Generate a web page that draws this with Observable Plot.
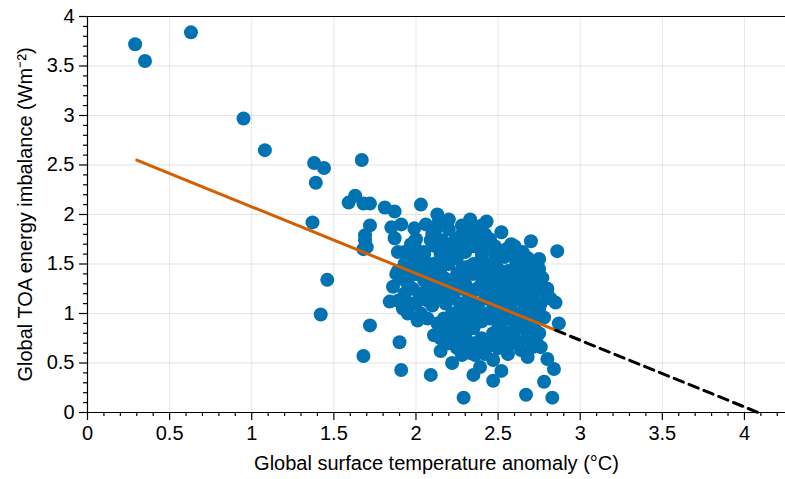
<!DOCTYPE html>
<html><head><meta charset="utf-8">
<script src="https://cdn.jsdelivr.net/npm/d3@7"></script>
<script src="https://cdn.jsdelivr.net/npm/@observablehq/plot@0.6"></script>
<style>
body{margin:0;background:#fff}
#chart svg{font-family:"Liberation Sans",Arial,Helvetica,sans-serif}
</style>
</head><body><div id="chart"></div>
<script>
// Global surface temperature anomaly (°C) for each point
const tempX = [
0.29,0.35,0.63,0.95,1.08,1.38,1.44,1.39,1.67,1.37,
1.46,1.42,1.68,1.72,1.90,1.91,2.09,2.15,2.22,2.29,
2.35,2.47,2.52,2.67,2.78,2.83,2.84,2.80,2.85,2.87,
2.86,2.70,2.75,2.77,2.72,2.78,2.76,2.71,2.64,2.56,
2.42,2.31,2.27,2.11,2.13,2.01,1.95,1.89,1.84,1.86,
1.88,1.89,1.89,1.68,1.69,1.70,1.69,1.72,1.63,1.59,
1.68,1.72,1.81,1.87,2.03,2.13,2.14,1.85,1.91,1.87,
1.99,2.06,2.09,1.97,1.95,2.03,2.15,2.21,1.95,2.05,
2.13,2.28,2.43,2.40,2.58,2.61,2.54,2.48,2.39,2.30,
2.16,2.66,2.59,2.43,2.31,2.56,2.60,2.68,2.68,2.74,
2.07,2.39,2.47,2.68,2.76,
2.20,2.35,
2.00,2.24,2.35,2.45,
2.05,2.30,2.40,2.65,
1.98,2.10,2.20,2.35,2.45,2.70,
2.00,2.15,2.25,2.35,2.50,2.60,
1.95,2.22,2.30,2.40,2.50,2.67,
1.93,2.02,2.12,2.22,2.32,2.42,2.52,2.80,
1.98,2.18,2.28,2.38,2.48,2.58,2.66,
2.03,2.22,2.32,2.42,2.52,2.62,2.70,
2.22,2.32,2.50,2.60,2.70,
2.20,2.30,2.47,2.58,
2.20,2.35,2.45,2.55,2.62,
2.10,2.28,2.42,
2.12,2.20,2.35,2.48,2.60,
2.02,2.15,2.25,2.40,2.50,2.62,2.68,
1.92,2.05,2.15,2.28,2.40,2.50,2.65,2.75,
1.90,2.08,2.18,2.28,2.45,2.55,2.62,2.72,
1.98,2.08,2.18,2.27,2.37,2.47,2.55,2.65,2.76,
1.93,2.03,2.13,2.23,2.33,2.43,2.53,2.63,2.72,2.82,
1.92,2.27,2.37,2.47,2.57,2.67,2.75,
2.07,2.17,2.27,2.37,2.45,2.55,2.65,2.74,
2.15,2.25,2.35,2.52,2.62,2.72,
2.15,2.25,2.30,2.40,2.52,2.60,2.68,
2.25,2.38,2.50,
2.28,2.36,
1.93,1.93,2.00,2.08,2.12,2.05,2.00,2.10,2.45,2.40,
2.55,2.63,2.58,2.33,2.45,2.52,2.33,2.20,2.12,2.25,
2.70,2.72,2.80,2.35,2.45,2.55,2.45,2.30,2.60,2.55,
2.75,2.40,2.30,2.20,2.15,2.05,2.00,1.95
];
// Global TOA energy imbalance (W m-2) for each point
const toaY = [
3.72,3.55,3.84,2.97,2.65,2.52,2.47,2.32,2.55,1.92,
1.34,0.99,0.57,0.88,0.71,0.43,0.38,0.62,0.50,0.15,
0.38,0.32,0.42,0.18,0.31,0.15,0.44,0.54,1.11,0.90,
1.63,1.73,1.55,1.36,1.27,0.96,1.10,0.66,0.63,0.59,
0.59,0.66,0.69,0.78,0.90,0.93,1.00,1.13,1.12,1.27,
1.40,1.43,1.62,1.65,1.74,1.67,1.79,1.89,2.19,2.12,
2.11,2.11,2.07,2.03,2.10,2.00,1.93,1.87,1.90,1.76,
1.86,1.90,1.74,1.70,1.57,1.54,1.60,1.62,1.37,1.33,
1.32,1.89,1.93,1.89,1.70,1.50,1.57,1.60,1.70,1.74,
1.74,1.40,1.23,1.40,1.47,1.43,1.27,1.20,0.80,0.69,
1.13,0.46,0.53,0.56,0.66,
1.85,1.85,
1.75,1.75,1.75,1.75,
1.62,1.62,1.62,1.62,
1.50,1.50,1.50,1.50,1.50,1.50,
1.40,1.40,1.40,1.40,1.40,1.40,
1.30,1.30,1.30,1.30,1.30,1.30,
1.20,1.20,1.20,1.20,1.20,1.20,1.20,1.20,
1.10,1.10,1.10,1.10,1.10,1.10,1.10,
1.00,1.00,1.00,1.00,1.00,1.00,1.00,
0.90,0.90,0.90,0.90,0.90,
0.80,0.80,0.80,0.80,
0.70,0.70,0.70,0.70,0.70,
1.80,1.80,1.80,
1.68,1.68,1.68,1.68,1.68,
1.56,1.56,1.56,1.56,1.56,1.56,1.56,
1.45,1.45,1.45,1.45,1.45,1.45,1.45,1.45,
1.35,1.35,1.35,1.35,1.35,1.35,1.35,1.35,
1.25,1.25,1.25,1.25,1.25,1.25,1.25,1.25,1.25,
1.15,1.15,1.15,1.15,1.15,1.15,1.15,1.15,1.15,1.15,
1.05,1.05,1.05,1.05,1.05,1.05,1.05,
0.95,0.95,0.95,0.95,0.95,0.95,0.95,0.95,
0.85,0.85,0.85,0.85,0.85,0.85,
0.75,0.75,0.75,0.75,0.75,0.75,0.75,
0.65,0.65,0.65,
0.58,0.58,
1.62,1.50,1.65,1.48,1.40,1.20,1.10,1.08,0.68,0.72,
0.80,0.88,0.70,0.60,1.70,1.82,1.95,1.95,1.85,1.65,
1.45,1.05,1.25,1.23,1.32,1.05,1.15,1.10,1.60,1.65,
0.80,0.92,0.95,1.18,1.28,1.60,1.40,1.30
];
// Regression fit and its extrapolation to zero imbalance
const fitSlope = -0.674;
const fitIntercept = 2.752;
const fitX = [0.30, 2.85];
const extrapX = [2.85, 4.083];

// Tick values
const xMajor = [0,0.5,1,1.5,2,2.5,3,3.5,4];
const yMajor = [0,0.5,1,1.5,2,2.5,3,3.5,4];
const xMinor = [0.1,0.2,0.3,0.4,0.6,0.7,0.8,0.9,1.1,1.2,1.3,1.4,1.6,1.7,1.8,1.9,2.1,2.2,2.3,2.4,2.6,2.7,2.8,2.9,3.1,3.2,3.3,3.4,3.6,3.7,3.8,3.9,4.1,4.2];
const yMinor = [0.1,0.2,0.3,0.4,0.6,0.7,0.8,0.9,1.1,1.2,1.3,1.4,1.6,1.7,1.8,1.9,2.1,2.2,2.3,2.4,2.6,2.7,2.8,2.9,3.1,3.2,3.3,3.4,3.6,3.7,3.8,3.9];

const points = tempX.map((x, i) => ({x, y: toaY[i]}));
const fmt = d3.format("~g");

const chart = Plot.plot({
  width: 785, height: 479,
  marginLeft: 87, marginRight: 0, marginTop: 16, marginBottom: 67,
  style: {fontFamily: "'Liberation Sans', Arial, Helvetica, sans-serif", fontSize: "20px", color: "#000", background: "#fff"},
  x: {domain: [0, 4.25], axis: null},
  y: {domain: [0, 4], axis: null},
  marks: [
    Plot.gridX(xMajor, {stroke: "#000", strokeOpacity: 0.1, strokeWidth: 1}),
    Plot.gridY(yMajor, {stroke: "#000", strokeOpacity: 0.1, strokeWidth: 1}),
    Plot.dot(points, {x: "x", y: "y", r: 7, fill: "#0173B2", stroke: null}),
    Plot.line(fitX, {x: d => d, y: d => fitIntercept + fitSlope * d, stroke: "#D55E00", strokeWidth: 3}),
    Plot.line(extrapX, {x: d => d, y: d => fitIntercept + fitSlope * d, stroke: "#000", strokeWidth: 3, strokeDasharray: "10,6"}),
    Plot.axisX(xMinor, {tickSize: 4, tickFormat: () => "", label: null, strokeWidth: 1.2}),
    Plot.axisY(yMinor, {tickSize: 4, tickFormat: () => "", label: null, strokeWidth: 1.2}),
    Plot.axisX(xMajor, {tickSize: 8, tickPadding: 5, tickFormat: fmt, fontSize: 20, strokeWidth: 1.2,
      label: "Global surface temperature anomaly (°C)", labelAnchor: "center", labelArrow: "none", labelOffset: 57}),
    Plot.axisY(yMajor, {tickSize: 8, tickPadding: 5, tickFormat: fmt, fontSize: 20, strokeWidth: 1.2,
      label: "Global TOA energy imbalance (Wm⁻²)", labelAnchor: "center", labelArrow: "none", labelOffset: 70}),
    Plot.ruleX([0], {stroke: "#000", strokeWidth: 1.2}),
    Plot.ruleY([0], {stroke: "#000", strokeWidth: 1.2}),
    Plot.ruleY([4], {stroke: "#000", strokeWidth: 1.2})
  ]
});
document.getElementById("chart").append(chart);
</script>
</body></html>
